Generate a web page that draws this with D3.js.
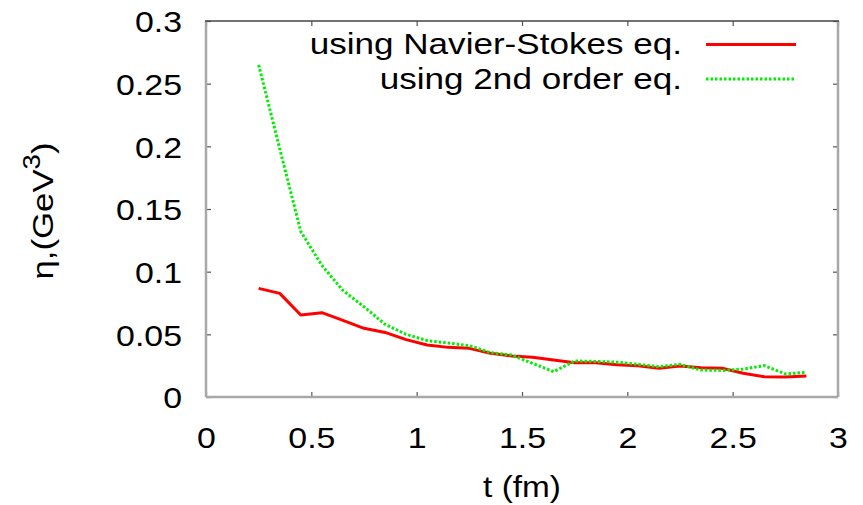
<!DOCTYPE html>
<html>
<head>
<meta charset="utf-8">
<script src="https://cdn.jsdelivr.net/npm/d3@7"></script>
<style>
  html, body { margin: 0; padding: 0; background: #fff; }
  svg { display: block; }
  text { font-family: "Liberation Sans", Arial, Helvetica, sans-serif; fill: #000; }
</style>
</head>
<body>
<svg id="chart" width="863" height="505"></svg>
<script>
// Time samples (fm)
const times = [0.25, 0.35, 0.45, 0.55, 0.65, 0.75, 0.85, 0.95, 1.05, 1.15, 1.25, 1.35, 1.45, 1.55,
               1.65, 1.75, 1.85, 1.95, 2.05, 2.15, 2.25, 2.35, 2.45, 2.55, 2.65, 2.75, 2.85];

// Shear viscosity from the Navier-Stokes equation
const navierStokes = [0.0867, 0.0827, 0.0654, 0.0673, 0.0612, 0.0548, 0.0515, 0.0458, 0.0415, 0.0396,
                      0.0388, 0.0349, 0.0327, 0.0317, 0.0295, 0.0274, 0.0274, 0.0258, 0.0250, 0.0229,
                      0.0247, 0.0234, 0.0229, 0.0189, 0.0162, 0.0160, 0.0168];

// Shear viscosity from the second-order equation
const secondOrder = [0.265, 0.198, 0.132, 0.105, 0.085, 0.072, 0.058, 0.050, 0.045, 0.043,
                     0.0410, 0.0354, 0.0335, 0.0269, 0.0202, 0.0287, 0.0284, 0.0278, 0.0260, 0.0242,
                     0.0260, 0.0215, 0.0212, 0.0223, 0.0250, 0.0184, 0.0197];

const seriesNames = ["using Navier-Stokes eq.", "using 2nd order eq."];
const xTicks = [0, 0.5, 1, 1.5, 2, 2.5, 3];
const xTickLabels = ["0", "0.5", "1", "1.5", "2", "2.5", "3"];
const yTicks = [0, 0.05, 0.1, 0.15, 0.2, 0.25, 0.3];
const yTickLabels = ["0", "0.05", "0.1", "0.15", "0.2", "0.25", "0.3"];

const svg = d3.select("#chart");
const plot = { left: 206, right: 838, top: 21, bottom: 397 };

const x = d3.scaleLinear().domain([0, 3]).range([plot.left, plot.right]);
const y = d3.scaleLinear().domain([0, 0.3]).range([plot.bottom, plot.top]);

const tickScaleX = 1.13;

// Left axis with inward ticks
const gy = svg.append("g")
  .attr("transform", `translate(${plot.left},0)`)
  .call(d3.axisLeft(y).tickValues(yTicks).tickFormat((d, i) => yTickLabels[i])
    .tickSize(-5).tickPadding(24));
gy.select(".domain").remove();
gy.selectAll(".tick line").attr("stroke", "#555").attr("stroke-width", 1.2);
gy.selectAll(".tick text")
  .attr("font-size", 30).attr("font-family", null)
  .attr("x", -24 / tickScaleX).attr("dy", "0.36em")
  .attr("transform", `scale(${tickScaleX},1)`);

// Right axis ticks (no labels)
const gyr = svg.append("g")
  .attr("transform", `translate(${plot.right},0)`)
  .call(d3.axisRight(y).tickValues(yTicks).tickFormat("").tickSize(-5));
gyr.select(".domain").remove();
gyr.selectAll(".tick line").attr("stroke", "#555").attr("stroke-width", 1.2);

// Bottom axis with inward ticks
const gx = svg.append("g")
  .attr("transform", `translate(0,${plot.bottom})`)
  .call(d3.axisBottom(x).tickValues(xTicks).tickFormat((d, i) => xTickLabels[i])
    .tickSize(-5).tickPadding(0));
gx.select(".domain").remove();
gx.selectAll(".tick line").attr("stroke", "#555").attr("stroke-width", 1.2);
gx.selectAll(".tick text")
  .attr("font-size", 30).attr("font-family", null)
  .attr("y", 51).attr("dy", 0)
  .attr("transform", `scale(${tickScaleX},1)`);

// Top axis ticks (no labels)
const gxt = svg.append("g")
  .attr("transform", `translate(0,${plot.top})`)
  .call(d3.axisTop(x).tickValues(xTicks).tickFormat("").tickSize(-5));
gxt.select(".domain").remove();
gxt.selectAll(".tick line").attr("stroke", "#555").attr("stroke-width", 1.2);

// Plot frame
const frame = svg.append("g").attr("fill", "none");
frame.append("line").attr("x1", plot.left).attr("x2", plot.left).attr("y1", plot.top).attr("y2", plot.bottom)
  .attr("stroke", "#a8a8a8").attr("stroke-width", 2.5);
frame.append("line").attr("x1", plot.left).attr("x2", plot.right).attr("y1", plot.bottom).attr("y2", plot.bottom)
  .attr("stroke", "#a8a8a8").attr("stroke-width", 2.5);
frame.append("line").attr("x1", plot.right).attr("x2", plot.right).attr("y1", plot.top).attr("y2", plot.bottom)
  .attr("stroke", "#a8a8a8").attr("stroke-width", 2.5);
frame.append("line").attr("x1", plot.left - 1).attr("x2", plot.right + 1).attr("y1", plot.top).attr("y2", plot.top)
  .attr("stroke", "#444").attr("stroke-width", 1.3);

// Curves
const line = d3.line().x((d, i) => x(times[i])).y(d => y(d));
svg.append("path").datum(navierStokes)
  .attr("d", line).attr("fill", "none")
  .attr("stroke", "#ff0000").attr("stroke-width", 3).attr("stroke-linejoin", "round");
svg.append("path").datum(secondOrder)
  .attr("d", line).attr("fill", "none")
  .attr("stroke", "#00ee00").attr("stroke-width", 3).attr("stroke-dasharray", "2.5,2");

// Legend
const legendScale = 1.21;
const legend = [
  { name: seriesNames[0], color: "#ff0000", dash: null, base: 54, mid: 44.5 },
  { name: seriesNames[1], color: "#00ee00", dash: "2.5,2", base: 88.5, mid: 79 }
];
legend.forEach(l => {
  svg.append("text")
    .attr("transform", `translate(682,${l.base}) scale(${legendScale},1)`)
    .attr("text-anchor", "end").attr("font-size", 29)
    .text(l.name);
  svg.append("line")
    .attr("x1", 706).attr("x2", 796).attr("y1", l.mid).attr("y2", l.mid)
    .attr("stroke", l.color).attr("stroke-width", 3)
    .attr("stroke-dasharray", l.dash);
});

// Axis titles
const yTitle = svg.append("text")
  .attr("transform", `translate(53,211) rotate(-90) scale(1.2,1)`)
  .attr("text-anchor", "middle").attr("font-size", 29);
yTitle.append("tspan").text("η,(GeV");
yTitle.append("tspan").attr("font-size", 23).attr("dy", -13).text("3");
yTitle.append("tspan").attr("dy", 13).text(")");

svg.append("text")
  .attr("transform", `translate(${(plot.left + plot.right) / 2},497) scale(1.15,1)`)
  .attr("text-anchor", "middle").attr("font-size", 29)
  .text("t (fm)");
</script>
</body>
</html>
